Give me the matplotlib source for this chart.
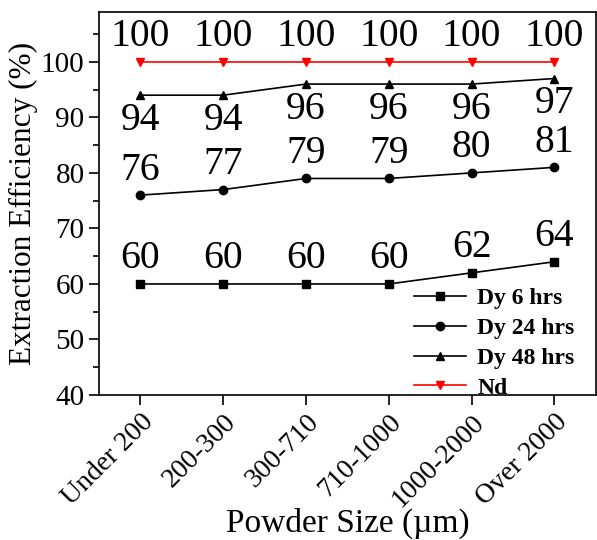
import matplotlib
matplotlib.use("Agg")
import matplotlib.pyplot as plt
from matplotlib.ticker import MultipleLocator

# ====== data ======
SIZES = ["Under 200", "200-300", "300-710", "710-1000", "1000-2000", "Over 2000"]
DY_6H = [60, 60, 60, 60, 62, 64]
DY_24H = [76, 77, 79, 79, 80, 81]
DY_48H = [94, 94, 96, 96, 96, 97]
ND = [100, 100, 100, 100, 100, 100]
# ==================

plt.rcParams["font.family"] = ["Liberation Serif", "DejaVu Serif"]

fig = plt.figure(figsize=(5.97, 5.40), dpi=100)
ax = fig.add_axes([0.166, 0.2685, 0.832, 0.7095])

x = list(range(len(SIZES)))

series = [
    (DY_6H, "s", "black", "Dy 6 hrs", 18),
    (DY_24H, "o", "black", "Dy 24 hrs", 18),
    (DY_48H, "^", "black", "Dy 48 hrs", -18),
    (ND, "v", "red", "Nd", 18),
]

for vals, marker, color, label, off in series:
    ax.plot(x, vals, marker=marker, color=color, lw=1.2, ms=6, label=label)
    for xi, v in zip(x, vals):
        ax.annotate(str(v), (xi, v), xytext=(0, off), textcoords="offset points",
                    ha="center", va="center", fontsize=28.5)

ax.set_xlim(-0.5, 5.5)
ax.set_ylim(40, 109)
ax.yaxis.set_major_locator(MultipleLocator(10))
ax.yaxis.set_minor_locator(MultipleLocator(5))
ax.set_xticks(x)
ax.set_xticklabels(SIZES, rotation=45, ha="right", rotation_mode="anchor", fontsize=20)
ax.tick_params(axis="y", labelsize=21)
ax.tick_params(direction="out", length=7, width=1.2)
ax.tick_params(which="minor", direction="out", length=4, width=1.2)
for s in ax.spines.values():
    s.set_linewidth(1.2)

ax.set_xlabel("Powder Size (\u00b5m)", fontsize=24)
ax.xaxis.set_label_coords(0.5, -0.295)
ax.set_ylabel("Extraction Efficiency (%)", fontsize=22.5, labelpad=2)

ax.legend(loc="lower right", bbox_to_anchor=(1.0, -0.065), frameon=False,
          prop={"weight": "bold", "size": 17}, handlelength=2.2,
          labelspacing=0.35, handletextpad=0.5)

fig.savefig("out.png", dpi=100)
